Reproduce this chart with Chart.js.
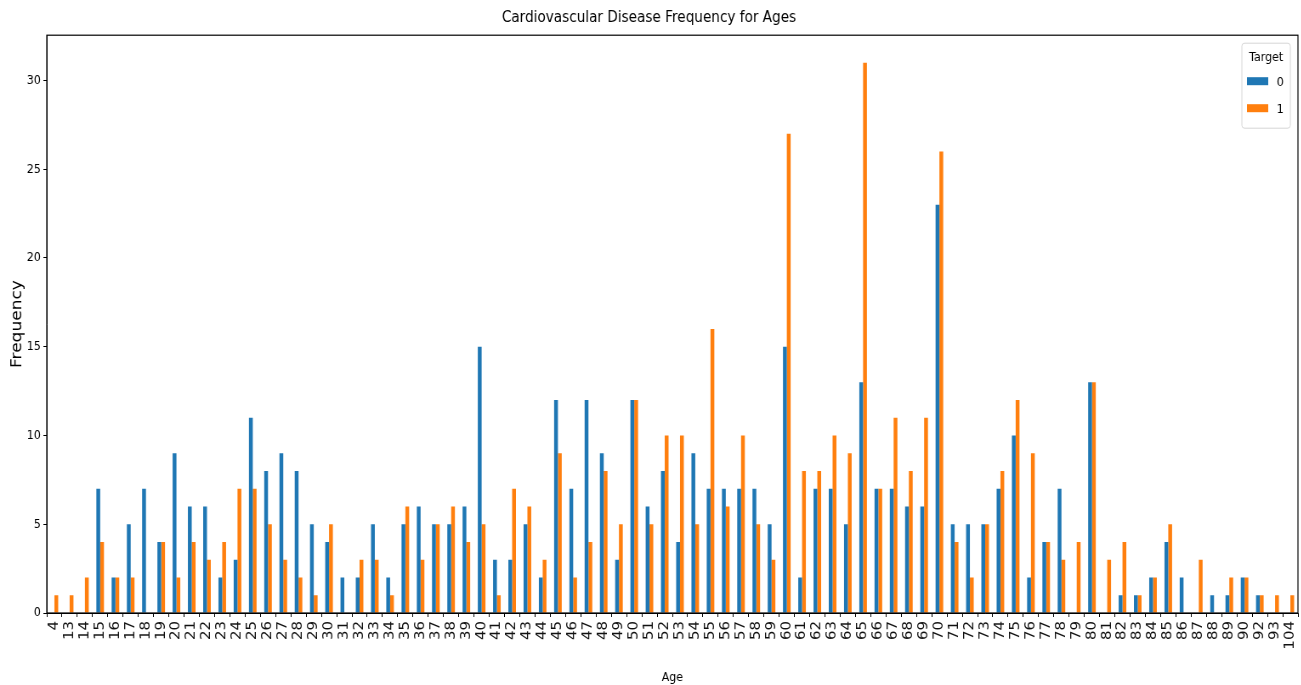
<!DOCTYPE html>
<html>
<head>
<meta charset="utf-8">
<script src="https://cdn.jsdelivr.net/npm/chart.js@4.4.1/dist/chart.umd.min.js"></script>
<style>
body{margin:0;background:#fff;}
#wrap{width:1301px;height:685px;overflow:hidden;}
#c{transform:scaleX(0.85);transform-origin:0 0;}
</style>
</head>
<body>
<div id="wrap"><canvas id="c" width="1531" height="685"></canvas></div>
<script>
// ages on the x axis
var ages = ['4','13','14','15','16','17','18','19','20','21','22','23','24','25','26','27','28','29','30','31','32','33','34','35','36','37','38','39','40','41','42','43','44','45','46','47','48','49','50','51','52','53','54','55','56','57','58','59','60','61','62','63','64','65','66','67','68','69','70','71','72','73','74','75','76','77','78','79','80','81','82','83','84','85','86','87','88','89','90','92','93','104']
// Target = 0
var target0 = [0,0,0,7,2,5,7,4,9,6,6,2,3,11,8,9,8,5,4,2,2,5,2,5,6,5,5,6,15,3,3,5,2,12,7,12,9,3,12,6,8,4,9,7,7,7,7,5,15,2,7,7,5,13,7,7,6,6,23,5,5,5,7,10,2,4,7,0,13,0,1,1,2,4,2,0,1,1,2,1,0,0]
// Target = 1
var target1 = [1,1,2,4,2,2,0,4,2,4,3,4,7,7,5,3,2,1,5,0,3,3,1,6,3,5,6,4,5,1,7,6,3,9,2,4,8,5,12,5,10,10,5,16,6,10,5,3,27,8,8,10,9,31,7,11,8,11,26,4,2,5,8,12,9,4,3,4,13,3,4,1,2,5,0,3,0,2,2,1,1,1]
var yTicks = [0,5,10,15,20,25,30]

var blue = '#1f77b4'
var orange = '#ff7f0e'

// frame round the plot + legend box inside upper right, like matplotlib
var framePlugin = {
  id:'frame',
  afterDraw:function(chart){
    var ctx = chart.ctx, ca = chart.chartArea
    ctx.save()
    ctx.strokeStyle = '#000'
    ctx.lineWidth = 1.2
    ctx.strokeRect(ca.left, ca.top, ca.right-ca.left, ca.bottom-ca.top)

    var bw = 57, bh = 85
    var bx = ca.right - 9 - bw, by = ca.top + 8
    ctx.fillStyle = 'rgba(255,255,255,0.8)'
    ctx.strokeStyle = '#d6d6d6'
    ctx.lineWidth = 1
    ctx.beginPath()
    ctx.roundRect(bx, by, bw, bh, 3)
    ctx.fill()
    ctx.stroke()

    ctx.fillStyle = '#000'
    ctx.font = '13px "DejaVu Sans"'
    ctx.textAlign = 'center'
    ctx.textBaseline = 'middle'
    ctx.fillText('Target', bx + bw/2, by + 14)
    ctx.textAlign = 'left'
    chart.data.datasets.forEach(function(ds, i){
      var yy = by + 38 + i*27
      ctx.fillStyle = ds.backgroundColor
      ctx.fillRect(bx + 6, yy - 4, 25, 8)
      ctx.fillStyle = '#000'
      ctx.fillText(ds.label, bx + 41, yy + 1)
    })
    ctx.restore()
  }
}

new Chart(document.getElementById('c'), {
  type:'bar',
  data:{
    labels:ages,
    datasets:[
      {label:'0', data:target0, backgroundColor:blue, categoryPercentage:0.5, barPercentage:1.0},
      {label:'1', data:target1, backgroundColor:orange, categoryPercentage:0.5, barPercentage:1.0}
    ]
  },
  options:{
    responsive:false,
    devicePixelRatio:1,
    animation:false,
    layout:{padding:{left:0,right:4,top:0,bottom:0}},
    plugins:{
      legend:{display:false},
      tooltip:{enabled:false},
      title:{
        display:true,
        text:'Cardiovascular Disease Frequency for Ages',
        color:'#000',
        font:{family:'"DejaVu Sans"', size:16, weight:'normal'},
        padding:{top:8,bottom:8}
      }
    },
    scales:{
      x:{
        grid:{drawOnChartArea:false, drawTicks:true, tickLength:4, color:'#000'},
        border:{color:'#000'},
        ticks:{autoSkip:false, maxRotation:90, minRotation:90, color:'#111', padding:4,
          font:{family:'"DejaVu Sans"', size:15}},
        title:{display:true, text:'Age', color:'#000', font:{family:'"DejaVu Sans"', size:13}, padding:{top:2,bottom:0}},
        afterFit:function(s){ s.height = 72; s.paddingLeft = 0; s.paddingRight = 0 }
      },
      y:{
        min:0, max:32.55,
        afterBuildTicks:function(s){ s.ticks = yTicks.map(function(v){ return {value:v} }) },
        grid:{drawOnChartArea:false, drawTicks:true, tickLength:4, color:'#000'},
        border:{color:'#000'},
        ticks:{color:'#000', padding:3, font:{family:'"DejaVu Sans"', size:13}},
        title:{display:true, text:'Frequency', color:'#000', font:{family:'"DejaVu Sans"', size:17}, padding:{top:10,bottom:0}},
        afterFit:function(s){ s.width = 55; s.paddingTop = 0; s.paddingBottom = 0 }
      }
    }
  },
  plugins:[framePlugin]
})
</script>
</body>
</html>
